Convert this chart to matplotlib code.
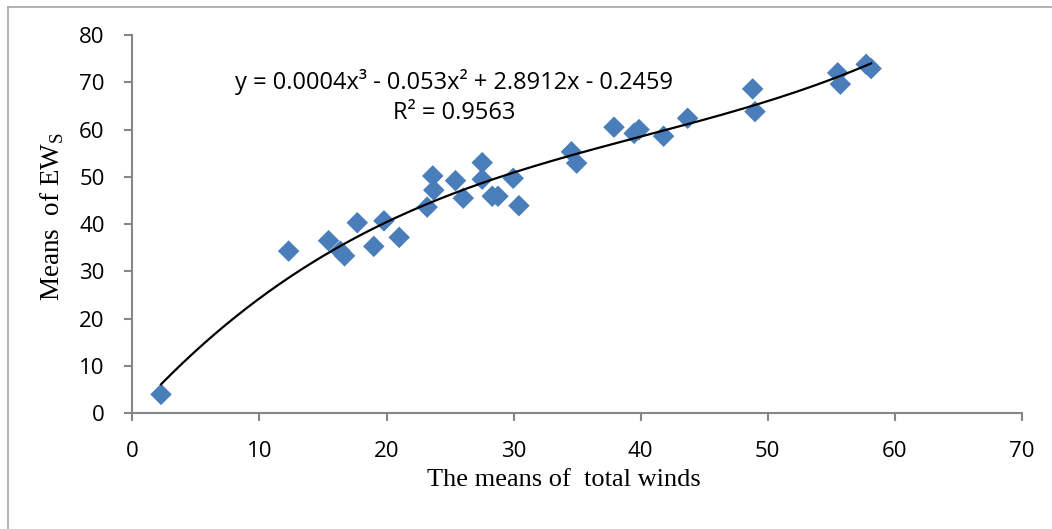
import numpy as np
import matplotlib
matplotlib.use("Agg")
from matplotlib import pyplot as plt
from matplotlib.lines import Line2D

# data
total_winds = [2.26, 12.3, 15.44, 16.36, 16.7, 17.7, 19.0, 19.8, 21.0,
               23.2, 23.64, 23.72, 25.43, 26.04, 27.53, 27.53, 28.32, 28.77, 29.97, 30.42,
               34.55, 34.96, 37.9, 39.48, 39.87, 41.8, 43.69,
               48.81, 48.99, 55.5, 55.71, 57.74, 58.13]
ews_means = [4.0, 34.3, 36.5, 34.3, 33.3, 40.3, 35.3, 40.7, 37.2,
             43.6, 50.2, 47.2, 49.2, 45.5, 53.0, 49.5, 45.9, 45.9, 49.7, 43.9,
             55.3, 52.9, 60.5, 59.2, 60.0, 58.6, 62.4,
             68.6, 63.8, 72.0, 69.6, 73.8, 72.9]

eq_text = "y = 0.0004x³ - 0.053x² + 2.8912x - 0.2459"
r2_text = "R² = 0.9563"
x_ticks = [0, 10, 20, 30, 40, 50, 60, 70]
y_ticks = [0, 10, 20, 30, 40, 50, 60, 70, 80]

plt.rcParams['mathtext.fontset'] = 'custom'
plt.rcParams['mathtext.rm'] = 'Liberation Serif'

fig = plt.figure(figsize=(10.52, 5.29), dpi=100)
ax = fig.add_axes([132.3/1052, 1-413.3/529, 889.7/1052, (413.3-35)/529])

# cubic trendline like Excel
coef = np.polyfit(total_winds, ews_means, 3)
xs = np.linspace(min(total_winds), max(total_winds), 200)
ax.plot(xs, np.polyval(coef, xs), color='black', lw=1.6, zorder=3)

ax.scatter(total_winds, ews_means, marker='D', s=120, color='#4A7EBB',
           edgecolors='none', zorder=2)

ax.set_xlim(0, 70)
ax.set_ylim(0, 80)
ax.set_xticks(x_ticks)
ax.set_yticks(y_ticks)
for s in ['top', 'right']:
    ax.spines[s].set_visible(False)
for s in ['left', 'bottom']:
    ax.spines[s].set_color('#868686')
    ax.spines[s].set_linewidth(1.5)
ax.tick_params(axis='both', color='#868686', width=1.5, length=6,
               labelsize=16, labelcolor='black')
ax.tick_params(axis='x', pad=14)
ax.tick_params(axis='y', pad=14)
for lbl in ax.get_xticklabels() + ax.get_yticklabels():
    lbl.set_family('Open Sans')

ax.set_xlabel("The means of  total winds", family='Liberation Serif', fontsize=19)
ax.set_ylabel(r"Means  of EW$_{\mathrm{S}}$", family='Liberation Serif', fontsize=19.5)
ax.xaxis.set_label_coords(0.485, -0.148)
ax.yaxis.set_label_coords(-0.075, 0.52)

ax.text(0.3616, 0.876, eq_text, transform=ax.transAxes, ha='center', va='center',
        family='Open Sans', fontsize=17)
ax.text(0.3616, 0.793, r2_text, transform=ax.transAxes, ha='center', va='center',
        family='Open Sans', fontsize=17)

# outer chart border (only left and top visible)
fig.add_artist(Line2D([8/1052, 8/1052], [0, 1-7/529], color='#A6A6A6', lw=1.2))
fig.add_artist(Line2D([8/1052, 1], [1-7/529, 1-7/529], color='#A6A6A6', lw=1.2))

fig.savefig("out.png", dpi=100)
